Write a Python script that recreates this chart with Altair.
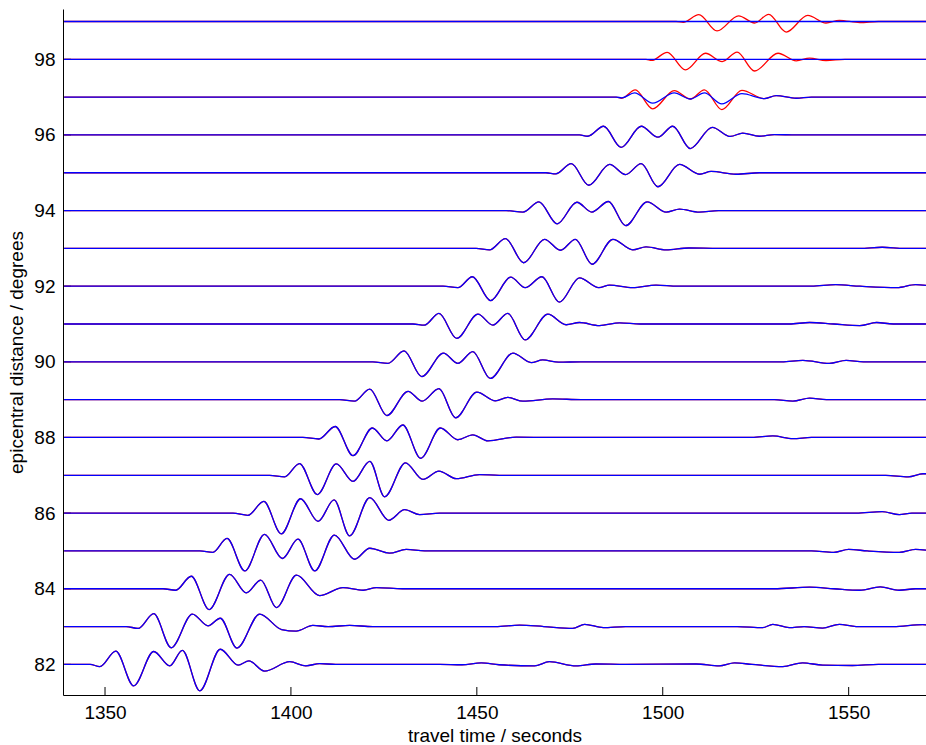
import altair as alt
import pandas as pd

# ---------------- data ----------------
X_TICKS = [1350, 1400, 1450, 1500, 1550]
Y_TICKS = [82, 84, 86, 88, 90, 92, 94, 96, 98]
DISTANCES = list(range(82, 100))

# observed traces (blue): times (s) and amplitudes (degrees offset from baseline)
OBS_T = {
    82: [1339, 1346, 1348.6, 1352.9, 1357.7, 1363.1, 1367.4, 1370.8, 1375.5, 1381.0, 1385.8, 1388.7, 1392.9, 1399.7, 1404, 1407.7, 1412, 1440, 1446, 1451.2, 1456, 1465.5, 1469.5, 1476.7, 1482, 1490, 1509, 1515.2, 1519.3, 1524, 1532.3, 1537.6, 1543, 1551, 1558, 1571],
    83: [1339, 1355.7, 1358.9, 1363.1, 1367.8, 1373.5, 1377.7, 1381.0, 1385.5, 1391.6, 1397.5, 1401.4, 1405.9, 1410, 1415.8, 1422, 1455, 1461.5, 1468, 1475.8, 1479, 1484, 1490, 1520, 1526.9, 1529.6, 1534, 1538, 1543, 1547.5, 1552, 1562, 1569.9, 1571],
    84: [1339, 1365.6, 1369, 1373.2, 1378.0, 1383.5, 1388.0, 1391.9, 1396.1, 1401.5, 1407.7, 1414.0, 1419.4, 1423.0, 1430, 1530, 1539.5, 1546, 1553, 1558.5, 1563.6, 1568, 1571],
    85: [1339, 1375.5, 1379, 1382.8, 1387.6, 1392.9, 1397.7, 1401.9, 1406.4, 1411.7, 1417.1, 1421.2, 1426.5, 1431.0, 1436, 1540, 1546, 1550, 1555, 1563.6, 1568, 1571],
    86: [1339, 1384.4, 1388.4, 1392.7, 1397.4, 1402.6, 1407.3, 1411.6, 1415.8, 1421.2, 1426.3, 1430.6, 1434.6, 1440, 1552, 1559, 1563.6, 1567, 1571],
    87: [1339, 1394.3, 1398.3, 1402.3, 1407.1, 1412.2, 1416.7, 1421.2, 1425.2, 1430.8, 1435.5, 1439.8, 1444.5, 1450.7, 1456, 1560, 1566, 1570, 1571],
    88: [1339, 1403.2, 1407.5, 1411.9, 1416.7, 1421.9, 1425.8, 1430.1, 1434.9, 1440.2, 1444.9, 1448.9, 1453, 1460.6, 1470, 1524, 1529.6, 1535, 1540, 1571],
    89: [1339, 1413.1, 1417.1, 1421.2, 1425.8, 1431.5, 1435.3, 1439.8, 1444.3, 1450.0, 1455.0, 1458.3, 1462.4, 1470.4, 1478, 1530, 1535, 1539.5, 1544, 1571],
    90: [1339, 1422, 1426.1, 1430.4, 1435.2, 1441.0, 1444.9, 1448.9, 1453.6, 1459.7, 1464.6, 1467.7, 1472, 1478, 1532, 1537.7, 1544.8, 1549.3, 1554, 1571],
    91: [1339, 1432.8, 1435.9, 1439.8, 1444.6, 1450.3, 1454.3, 1458.3, 1463.0, 1469.1, 1474.0, 1477.6, 1483, 1488.4, 1494, 1534, 1539.5, 1546, 1553, 1557.5, 1562, 1571],
    92: [1339, 1440.9, 1444.9, 1448.8, 1453.7, 1459.1, 1463.0, 1467.5, 1472.2, 1477.6, 1482.8, 1485.7, 1491.9, 1498.2, 1504, 1540, 1546.5, 1553, 1563, 1568, 1571],
    93: [1339, 1449.8, 1453.4, 1457.7, 1462.6, 1468.2, 1472.5, 1476.5, 1481.0, 1486.6, 1491.9, 1495.5, 1500.9, 1507, 1515, 1553, 1559, 1565, 1571],
    94: [1339, 1457.9, 1462.4, 1466.7, 1471.6, 1476.9, 1480.9, 1485.4, 1490.0, 1495.8, 1500.9, 1504.5, 1509.8, 1515, 1571],
    95: [1339, 1468.6, 1471.2, 1475.4, 1480.1, 1485.7, 1490.0, 1494.2, 1498.7, 1504.5, 1509.9, 1513.0, 1519.7, 1526, 1571],
    96: [1339, 1477.6, 1479.8, 1484.1, 1488.8, 1494.2, 1498.7, 1502.7, 1507.4, 1513.3, 1518.2, 1521.5, 1526, 1530, 1536, 1571],
    97: [1339, 1487.5, 1489, 1492.4, 1497.3, 1503.1, 1507.4, 1511.2, 1515.9, 1521.3, 1527.3, 1530.5, 1535.9, 1540, 1571],
    98: [1339, 1571],
    99: [1339, 1571],
}
OBS_A = {
    82: [0, 0, -0.06, 0.35, -0.57, 0.34, -0.04, 0.37, -0.70, 0.40, -0.02, 0.09, -0.18, 0.07, -0.04, 0.02, 0, 0, -0.01, 0.04, -0.01, -0.04, 0.07, -0.04, 0.01, 0, 0.01, -0.04, 0.04, 0, -0.06, 0.04, -0.02, -0.03, 0, 0],
    83: [0, 0, -0.05, 0.34, -0.56, 0.33, 0.02, 0.22, -0.57, 0.33, -0.08, -0.12, 0.03, 0, 0.03, 0, 0, 0.04, 0, -0.05, 0.06, -0.03, 0, 0, -0.03, 0.06, -0.03, 0, -0.04, 0.06, 0, 0, 0.05, 0.04],
    84: [0, 0, -0.04, 0.33, -0.55, 0.38, -0.11, 0.23, -0.50, 0.36, -0.18, 0.03, -0.04, 0.03, 0, 0, 0.04, 0, -0.04, 0.05, -0.04, 0, 0],
    85: [0, 0, -0.04, 0.33, -0.53, 0.44, -0.20, 0.31, -0.53, 0.42, -0.22, 0.07, -0.06, 0.04, 0, 0, -0.04, 0.04, 0, -0.04, 0.04, 0.02],
    86: [0, 0, -0.06, 0.31, -0.55, 0.38, -0.22, 0.35, -0.60, 0.41, -0.19, 0.09, -0.04, 0, 0, 0.04, -0.04, 0, 0],
    87: [0, 0, -0.04, 0.31, -0.51, 0.30, -0.16, 0.37, -0.57, 0.33, -0.11, 0.11, -0.09, 0.02, 0, 0, -0.04, 0.04, 0.04],
    88: [0, 0, -0.04, 0.29, -0.48, 0.25, -0.09, 0.33, -0.55, 0.25, -0.06, 0.07, -0.09, 0.01, 0, 0, 0.04, -0.03, 0, 0],
    89: [0, 0, -0.04, 0.28, -0.42, 0.22, -0.04, 0.29, -0.48, 0.20, -0.03, 0.06, -0.04, 0.02, 0, 0, -0.04, 0.04, 0, 0],
    90: [0, 0, -0.04, 0.29, -0.39, 0.23, -0.04, 0.27, -0.44, 0.23, -0.02, 0.05, -0.01, 0, 0, 0.04, -0.04, 0.04, 0, 0],
    91: [0, 0, -0.03, 0.28, -0.38, 0.26, -0.03, 0.28, -0.42, 0.26, -0.02, 0.04, -0.04, 0.03, 0, 0, 0.04, 0, -0.04, 0.04, 0, 0],
    92: [0, 0, -0.04, 0.25, -0.38, 0.24, -0.04, 0.25, -0.42, 0.22, -0.04, 0.03, -0.04, 0.03, 0, 0, 0.04, 0, -0.04, 0.04, 0.02],
    93: [0, 0, -0.04, 0.26, -0.38, 0.24, -0.05, 0.24, -0.42, 0.24, -0.04, 0.04, -0.04, 0.01, 0, 0, 0.03, 0, 0],
    94: [0, 0, -0.04, 0.23, -0.35, 0.22, -0.04, 0.24, -0.40, 0.23, -0.04, 0.04, -0.04, 0, 0],
    95: [0, 0, -0.03, 0.24, -0.33, 0.22, -0.05, 0.24, -0.37, 0.22, -0.04, 0.035, -0.04, 0, 0],
    96: [0, 0, -0.035, 0.23, -0.33, 0.23, -0.06, 0.23, -0.36, 0.20, -0.04, 0.05, -0.035, 0.01, 0, 0],
    97: [0, 0, -0.02, 0.11, -0.16, 0.11, -0.05, 0.11, -0.18, 0.09, -0.04, 0.04, -0.03, 0, 0],
    98: [0, 0],
    99: [0, 0],
}

# synthetic traces (red): identical to the observed ones up to 96 degrees
SYN_T = {
    97: [1339, 1487.5, 1489, 1492.6, 1497.3, 1503.1, 1507.4, 1511.2, 1515.9, 1521.3, 1527.3, 1530.5, 1535.9, 1540, 1571],
    98: [1339, 1495.5, 1497, 1501.2, 1506.1, 1511.5, 1516.0, 1520.0, 1524.7, 1531.0, 1535.9, 1539.5, 1543.9, 1549, 1571],
    99: [1339, 1503.6, 1505.5, 1509.7, 1514.6, 1520.4, 1524.7, 1528.5, 1533.2, 1539.0, 1543.9, 1547.5, 1553, 1558, 1571],
}
SYN_A = {
    97: [0, 0, -0.03, 0.19, -0.31, 0.17, -0.05, 0.19, -0.33, 0.18, -0.04, 0.04, -0.03, 0, 0],
    98: [0, 0, -0.03, 0.185, -0.28, 0.16, -0.06, 0.19, -0.31, 0.16, -0.04, 0.03, -0.035, 0, 0],
    99: [0, 0, -0.02, 0.18, -0.25, 0.15, -0.04, 0.19, -0.28, 0.16, -0.04, 0.03, -0.03, 0, 0],
}

X_DOMAIN = [1338.7, 1570.8]
Y_DOMAIN = [81.19, 99.33]

# ---------------- build tables ----------------
obs_rows, syn_rows = [], []
for d in DISTANCES:
    for t, a in zip(OBS_T[d], OBS_A[d]):
        obs_rows.append({"t": t, "y": d + a, "trace": d})
    st = SYN_T.get(d, OBS_T[d])
    sa = SYN_A.get(d, OBS_A[d])
    for t, a in zip(st, sa):
        syn_rows.append({"t": t, "y": d + a, "trace": d})
obs_df = pd.DataFrame(obs_rows)
syn_df = pd.DataFrame(syn_rows)

W, H = 863, 686
FONT = "Liberation Sans"
FS = 19

x_enc = alt.X(
    "t:Q",
    scale=alt.Scale(domain=X_DOMAIN, nice=False, zero=False),
    axis=alt.Axis(
        values=X_TICKS, title="travel time / seconds", format="d",
        labelPadding=8, titleY=46, titleBaseline="alphabetic",
    ),
)
y_enc = alt.Y(
    "y:Q",
    scale=alt.Scale(domain=Y_DOMAIN, nice=False, zero=False),
    axis=alt.Axis(
        values=Y_TICKS, title="epicentral distance / degrees", format="d",
        labelPadding=8, titleX=-41, titleY=H / 2, titleAlign="center",
        titleBaseline="alphabetic", titleAngle=270,
    ),
)

tick_x = alt.Chart(pd.DataFrame({"t": X_TICKS})).mark_rule(
    color="#000000", strokeWidth=1
).encode(x=x_enc, y=alt.value(H - 8), y2=alt.value(H))

tick_y = alt.Chart(pd.DataFrame({"y": Y_TICKS})).mark_rule(
    color="#000000", strokeWidth=1
).encode(y=y_enc, x=alt.value(0), x2=alt.value(8))

red = alt.Chart(syn_df).mark_line(
    color="#ff0000", strokeWidth=1.3, interpolate="monotone", clip=True
).encode(x=x_enc, y=y_enc, detail="trace:N")

blue = alt.Chart(obs_df).mark_line(
    color="#0000ff", strokeWidth=1.3, interpolate="monotone", clip=True
).encode(x=x_enc, y=y_enc, detail="trace:N")

chart = (
    alt.layer(tick_x, tick_y, red, blue)
    .properties(
        width=W, height=H,
        padding={"left": 63, "top": 9, "right": 0, "bottom": 50},
        autosize=alt.AutoSizeParams(type="none"),
        background="white",
    )
    .configure_view(stroke=None)
    .configure_axis(
        grid=False, ticks=False, tickSize=0,
        domainColor="#000000", domainWidth=1,
        labelFont=FONT, labelFontSize=FS, labelColor="#000000",
        titleFont=FONT, titleFontSize=FS, titleColor="#000000", titleFontWeight="normal",
    )
)

chart.save("out.html", embed_options={"renderer": "svg", "actions": False})
